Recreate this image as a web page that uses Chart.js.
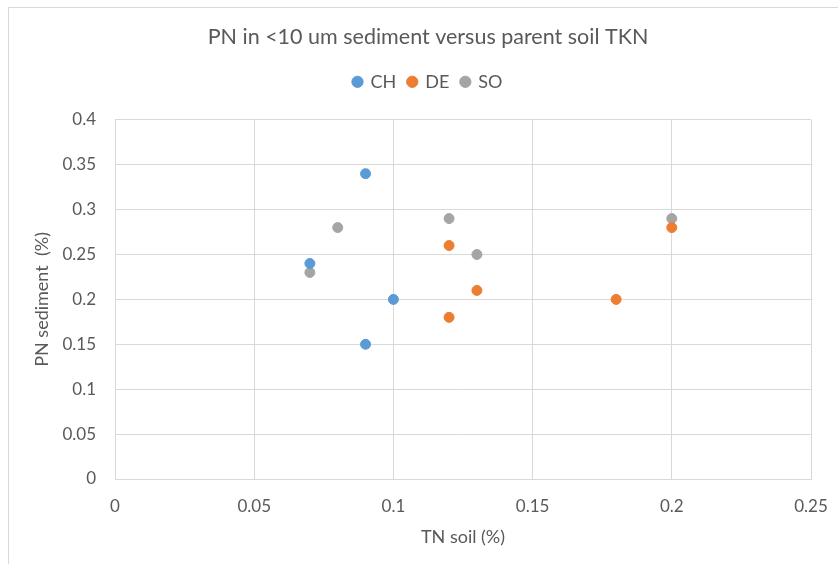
<!DOCTYPE html>
<html>
<head>
<meta charset="utf-8">
<script src="https://cdn.jsdelivr.net/npm/chart.js@4/dist/chart.umd.min.js"></script>
<style>
  html, body { margin: 0; padding: 0; background: #fff; }
  #wrap { position: relative; width: 838px; height: 564px; overflow: hidden; }
  #frame { position: absolute; left: 8px; top: 7px; width: 2000px; height: 2000px;
           border: 1px solid #d9d9d9; pointer-events: none; }
</style>
</head>
<body>
<div id="wrap">
  <canvas id="c" width="838" height="564"></canvas>
  <div id="frame"></div>
</div>
<script>
// Streudiagramm: PN im Sediment gegen TN im Boden, drei Standorte.
const chTN = [0.09, 0.07, 0.1, 0.09];
const chPN = [0.34, 0.24, 0.2, 0.15];
const deTN = [0.12, 0.13, 0.12, 0.18, 0.2];
const dePN = [0.26, 0.21, 0.18, 0.2, 0.28];
const soTN = [0.08, 0.07, 0.12, 0.13, 0.2];
const soPN = [0.28, 0.23, 0.29, 0.25, 0.29];

const TEXT = '#595959';
const GRID = '#d9d9d9';
const FONT = 'Lato, "Open Sans", sans-serif';

const pts = (xs, ys) => xs.map((x, i) => ({ x, y: ys[i] }));
const fmt = (v) => String(Number(Number(v).toFixed(2)));

const series = [
  { label: 'CH', data: pts(chTN, chPN), color: '#5b9bd5' },
  { label: 'DE', data: pts(deTN, dePN), color: '#ed7d31' },
  { label: 'SO', data: pts(soTN, soPN), color: '#a5a5a5' },
];

// Legende etwas hoeher machen, damit der Plotbereich tiefer beginnt.
const legendGap = {
  id: 'legendGap',
  beforeInit(chart) {
    const fit = chart.legend.fit;
    chart.legend.fit = function () {
      fit.call(this);
      this.height += 19;
    };
  },
};

new Chart(document.getElementById('c'), {
  type: 'scatter',
  data: {
    datasets: series.map((s) => ({
      label: s.label,
      data: s.data,
      backgroundColor: s.color,
      borderColor: s.color,
      pointRadius: 5,
      pointHoverRadius: 5,
    })),
  },
  plugins: [legendGap],
  options: {
    responsive: false,
    animation: false,
    layout: { padding: { left: 45, right: 27, top: 0, bottom: 0 } },
    plugins: {
      title: {
        display: true,
        text: 'PN in <10 um sediment versus parent soil TKN',
        color: TEXT,
        font: { family: FONT, size: 21.5, weight: 'normal' },
        padding: { top: 24, bottom: 11 },
      },
      legend: {
        display: true,
        labels: {
          color: TEXT,
          font: { family: FONT, size: 18 },
          usePointStyle: true,
          pointStyle: 'circle',
          boxWidth: 8,
          boxHeight: 8,
          padding: 12,
        },
      },
      tooltip: { enabled: false },
    },
    scales: {
      x: {
        type: 'linear',
        min: 0,
        max: 0.25,
        ticks: { stepSize: 0.05, color: TEXT, font: { family: FONT, size: 17 }, padding: 17, callback: fmt },
        grid: { color: GRID, drawTicks: false },
        border: { color: GRID },
        title: { display: true, text: 'TN soil (%)', color: TEXT, font: { family: FONT, size: 18 }, padding: { top: 0, bottom: 16 } },
        afterFit: (scale) => {
          scale.height = 85;
          // Ueberstand der Randbeschriftung nicht einrechnen, rechter Rand kommt aus layout.padding
          scale.paddingLeft = 0;
          scale.paddingRight = 0;
        },
      },
      y: {
        type: 'linear',
        min: 0,
        max: 0.4,
        ticks: { stepSize: 0.05, color: TEXT, font: { family: FONT, size: 17 }, padding: 19, callback: fmt },
        grid: { color: GRID, drawTicks: false },
        border: { color: GRID },
        title: { display: true, text: 'PN sediment  (%)', color: TEXT, font: { family: FONT, size: 18 }, padding: { top: -14, bottom: 0 } },
        afterFit: (scale) => { scale.width = 70; },
      },
    },
  },
});
</script>
</body>
</html>
